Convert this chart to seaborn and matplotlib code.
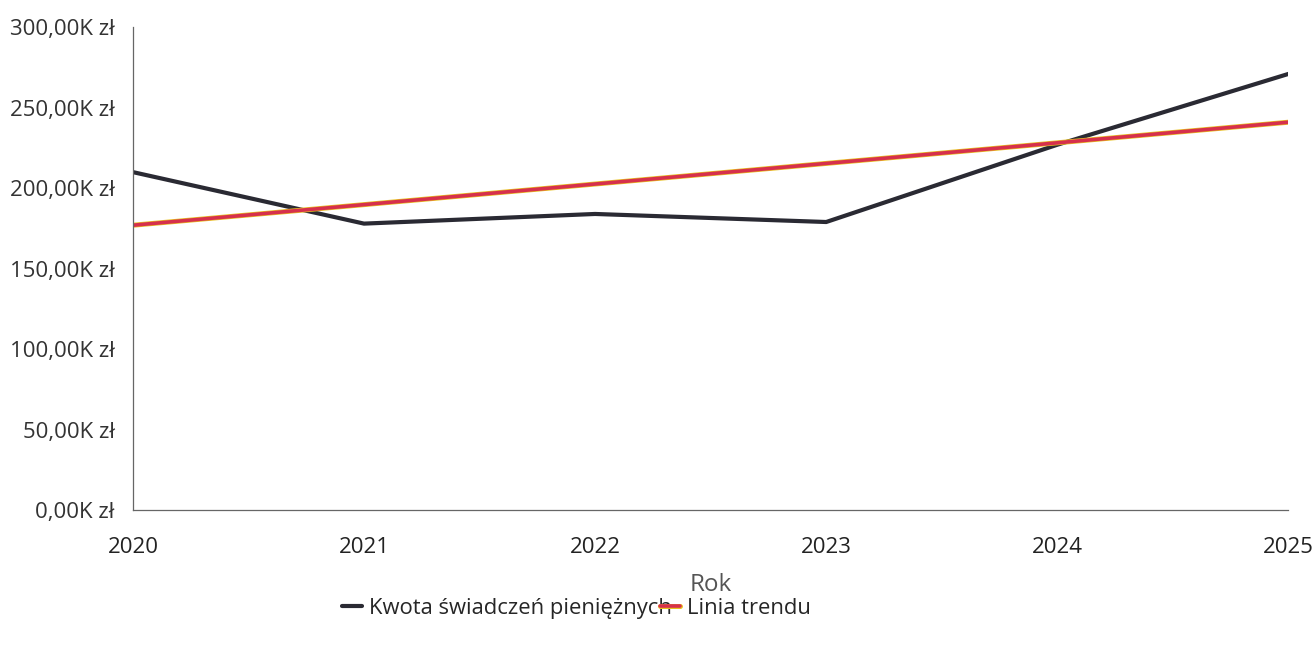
import pandas as pd
import matplotlib.pyplot as plt
import matplotlib.patheffects as pe
import seaborn as sns

# data (thousands of zł)
years = [2020, 2021, 2022, 2023, 2024, 2025]
kwota = [210, 178, 184, 179, 227, 271]
trend_years = [2020, 2025]
trend = [177, 241]

df = pd.DataFrame({'Rok': years, 'Kwota': kwota})
df_trend = pd.DataFrame({'Rok': trend_years, 'Trend': trend})

sns.set_style('white')
plt.rcParams['font.family'] = ['Open Sans', 'DejaVu Sans']

fig = plt.figure(figsize=(13.16, 6.49), dpi=100)
ax = fig.add_axes([0.101, 0.214, 0.878, 0.744])

sns.lineplot(data=df, x='Rok', y='Kwota', ax=ax, color='#2a2a33', lw=3,
             label='Kwota świadczeń pieniężnych')
sns.lineplot(data=df_trend, x='Rok', y='Trend', ax=ax, color='#d6304c', lw=2.6,
             label='Linia trendu',
             path_effects=[pe.Stroke(linewidth=3.6, foreground='#e8c020'), pe.Normal()])

ax.set_xlim(2020, 2025)
ax.set_ylim(0, 300)
ax.set_xticks(years)
ax.set_xticklabels([str(y) for y in years])
ax.set_yticks([0, 50, 100, 150, 200, 250, 300])
ax.set_yticklabels(['0,00K zł', '50,00K zł', '100,00K zł', '150,00K zł',
                    '200,00K zł', '250,00K zł', '300,00K zł'])
ax.tick_params(axis='y', length=0, pad=13, labelsize=16, labelcolor='#333333')
ax.tick_params(axis='x', length=0, pad=19, labelsize=16, labelcolor='#222222')
ax.set_xlabel('Rok', fontsize=17.5, color='#555555', labelpad=11)
ax.set_ylabel('')

for s in ['top', 'right']:
    ax.spines[s].set_visible(False)
for s in ['left', 'bottom']:
    ax.spines[s].set_color('#666666')
    ax.spines[s].set_linewidth(0.9)

ax.get_legend().remove()
h, l = ax.get_legend_handles_labels()
fig.legend(h, l, loc='center left', bbox_to_anchor=(0.245, 0.063), ncol=2,
           frameon=False, fontsize=15.8, handlelength=0.9, handletextpad=0.3,
           columnspacing=-0.5)

fig.savefig('out.png', dpi=100)
